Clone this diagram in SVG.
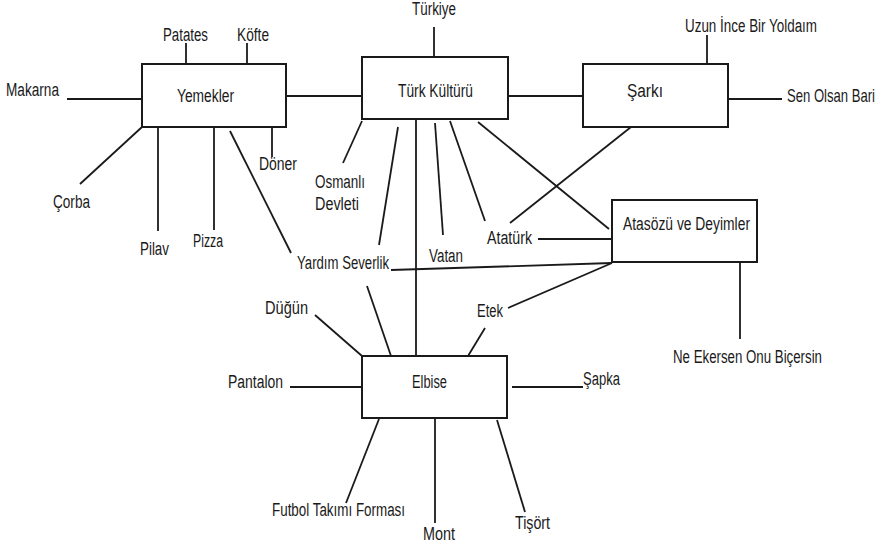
<svg xmlns="http://www.w3.org/2000/svg" width="882" height="545" viewBox="0 0 882 545">
<style>
.box{fill:#fff;stroke:#1a1a1a;stroke-width:2}
.c line{stroke:#1a1a1a;stroke-width:1.8;stroke-linecap:butt}
text{font-family:"Liberation Sans",Arial,sans-serif;font-size:18px;fill:#1a1a1a}
</style>
<rect width="882" height="545" fill="#fff"/>
<g class="c" id="connectors">
<line x1="186" y1="43" x2="186" y2="64"/>
<line x1="247" y1="43" x2="247" y2="64"/>
<line x1="67" y1="99" x2="142" y2="99"/>
<line x1="286" y1="96" x2="361" y2="96"/>
<line x1="272" y1="127" x2="272" y2="157"/>
<line x1="142" y1="127" x2="80" y2="184"/>
<line x1="158" y1="127" x2="158" y2="231"/>
<line x1="214" y1="127" x2="214" y2="230"/>
<line x1="230" y1="131" x2="291" y2="253"/>
<line x1="434" y1="27" x2="434" y2="57"/>
<line x1="508" y1="96" x2="583" y2="96"/>
<line x1="362" y1="121" x2="343" y2="163"/>
<line x1="398" y1="127" x2="379" y2="245"/>
<line x1="416" y1="119" x2="416" y2="356"/>
<line x1="435" y1="123" x2="443" y2="235"/>
<line x1="450" y1="121" x2="485" y2="221"/>
<line x1="478" y1="122" x2="609" y2="229"/>
<line x1="631" y1="127" x2="510" y2="223"/>
<line x1="707" y1="35" x2="707" y2="64"/>
<line x1="728" y1="99" x2="782" y2="99"/>
<line x1="538" y1="239" x2="612" y2="239"/>
<line x1="391" y1="270" x2="612" y2="263"/>
<line x1="612" y1="263" x2="508" y2="308"/>
<line x1="740" y1="262" x2="740" y2="339"/>
<line x1="485" y1="328" x2="468" y2="356"/>
<line x1="367" y1="286" x2="391" y2="356"/>
<line x1="315" y1="315" x2="362" y2="356"/>
<line x1="290" y1="387" x2="362" y2="387"/>
<line x1="512" y1="387" x2="583" y2="387"/>
<line x1="379" y1="419" x2="346" y2="503"/>
<line x1="435" y1="418" x2="435" y2="523"/>
<line x1="497" y1="420" x2="525" y2="512"/>
</g>
<g id="yemekler"><rect class="box" x="142" y="64" width="144" height="63"/><text x="177" y="102" textLength="57" lengthAdjust="spacingAndGlyphs">Yemekler</text></g>
<g id="turk-kulturu"><rect class="box" x="362" y="57" width="146" height="62"/><text x="398" y="97" textLength="75" lengthAdjust="spacingAndGlyphs">Türk Kültürü</text></g>
<g id="sarki"><rect class="box" x="583" y="64" width="145" height="63"/><text x="627" y="97" textLength="36" lengthAdjust="spacingAndGlyphs">Şarkı</text></g>
<g id="atasozu"><rect class="box" x="612" y="200" width="145" height="62"/><text x="623" y="230" textLength="127" lengthAdjust="spacingAndGlyphs">Atasözü ve Deyimler</text></g>
<g id="elbise"><rect class="box" x="362" y="356" width="145" height="62"/><text x="412" y="388" textLength="35" lengthAdjust="spacingAndGlyphs">Elbise</text></g>
<g id="patates"><text x="163" y="41" textLength="45" lengthAdjust="spacingAndGlyphs">Patates</text></g>
<g id="kofte"><text x="237" y="41" textLength="32" lengthAdjust="spacingAndGlyphs">Köfte</text></g>
<g id="makarna"><text x="6" y="96" textLength="53" lengthAdjust="spacingAndGlyphs">Makarna</text></g>
<g id="doner"><text x="259" y="170" textLength="38" lengthAdjust="spacingAndGlyphs">Döner</text></g>
<g id="corba"><text x="53" y="208" textLength="37" lengthAdjust="spacingAndGlyphs">Çorba</text></g>
<g id="pilav"><text x="140" y="255" textLength="29" lengthAdjust="spacingAndGlyphs">Pilav</text></g>
<g id="pizza"><text x="193" y="247" textLength="30" lengthAdjust="spacingAndGlyphs">Pizza</text></g>
<g id="turkiye"><text x="412" y="15" textLength="44" lengthAdjust="spacingAndGlyphs">Türkiye</text></g>
<g id="osmanli"><text x="315" y="188" textLength="50" lengthAdjust="spacingAndGlyphs">Osmanlı</text><text x="315" y="210" textLength="44" lengthAdjust="spacingAndGlyphs">Devleti</text></g>
<g id="vatan"><text x="429" y="262" textLength="34" lengthAdjust="spacingAndGlyphs">Vatan</text></g>
<g id="ataturk"><text x="487" y="244" textLength="45" lengthAdjust="spacingAndGlyphs">Atatürk</text></g>
<g id="yardim"><text x="297" y="269" textLength="92" lengthAdjust="spacingAndGlyphs">Yardım Severlik</text></g>
<g id="uzun"><text x="685" y="32" textLength="132" lengthAdjust="spacingAndGlyphs">Uzun İnce Bir Yoldaım</text></g>
<g id="sen-olsan"><text transform="translate(787,102) scale(0.727,1)" x="0" y="0">Sen Olsan Bari</text></g>
<g id="ne-ekersen"><text x="673" y="363" textLength="149" lengthAdjust="spacingAndGlyphs">Ne Ekersen Onu Biçersin</text></g>
<g id="etek"><text x="477" y="317" textLength="26" lengthAdjust="spacingAndGlyphs">Etek</text></g>
<g id="dugun"><text x="265" y="314" textLength="43" lengthAdjust="spacingAndGlyphs">Düğün</text></g>
<g id="pantalon"><text x="228" y="388" textLength="55" lengthAdjust="spacingAndGlyphs">Pantalon</text></g>
<g id="sapka"><text x="583" y="385" textLength="37" lengthAdjust="spacingAndGlyphs">Şapka</text></g>
<g id="futbol"><text x="272" y="516" textLength="133" lengthAdjust="spacingAndGlyphs">Futbol Takımı Forması</text></g>
<g id="mont"><text x="423" y="540" textLength="32" lengthAdjust="spacingAndGlyphs">Mont</text></g>
<g id="tisort"><text x="515" y="529" textLength="35" lengthAdjust="spacingAndGlyphs">Tişört</text></g>
</svg>
